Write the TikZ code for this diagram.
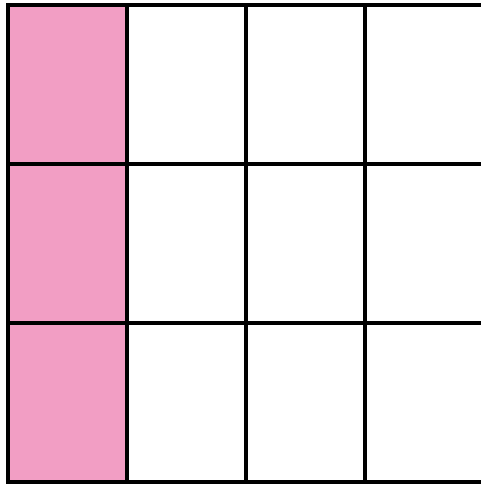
\documentclass[tikz,border=0pt]{standalone}
\definecolor{CellClr}{RGB}{242,158,196}
\tikzset{gridline/.style={line width=4pt,line cap=rect,color=black}}
\begin{document}
\begin{tikzpicture}[x=1pt,y=-1pt]
\useasboundingbox (0,0) rectangle (481,484);

\coordinate (TL) at (8,5);
\coordinate (BR) at (484,482);

\fill[CellClr] (TL) rectangle (127,482);

\foreach \x in {8,127,246,365,484}
  \draw[gridline] (\x,5) -- (\x,482);
\foreach \y in {5,164,323,482}
  \draw[gridline] (8,\y) -- (484,\y);

\end{tikzpicture}
\end{document}
